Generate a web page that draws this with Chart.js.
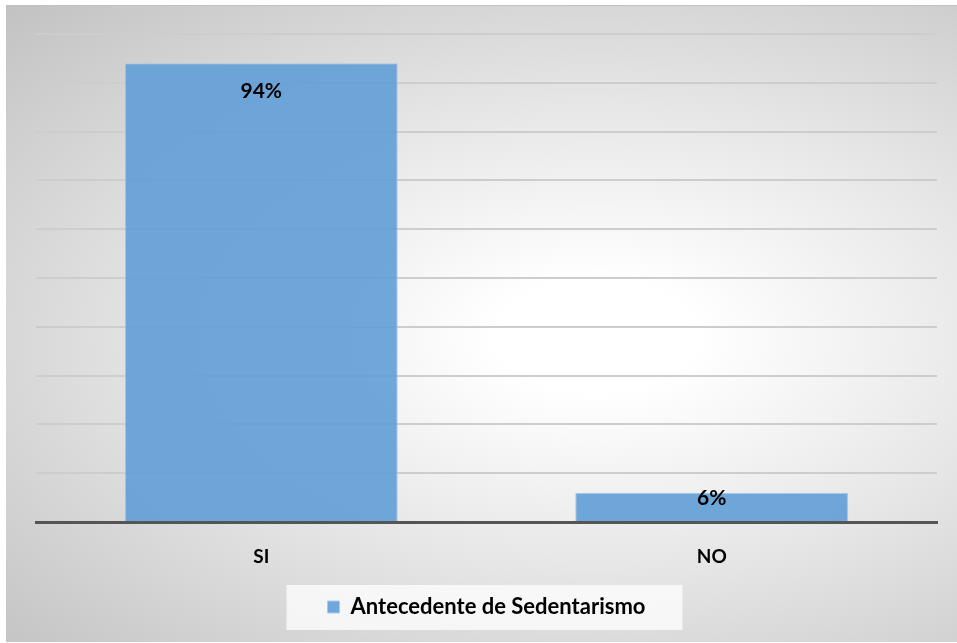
<!DOCTYPE html>
<html>
<head>
<meta charset="utf-8">
<script src="https://cdn.jsdelivr.net/npm/chart.js@4.4.0/dist/chart.umd.min.js"></script>
<style>
  html, body { margin: 0; padding: 0; background: #fff; }
  #wrap {
    position: absolute; left: 6px; top: 5px; width: 951px; height: 636px;
    border-top: 1px solid #c0c0c0;
    background: radial-gradient(ellipse farthest-corner at 62% 52%, #ffffff 0%, #ffffff 12%, #e6e6e6 50%, #c2c2c2 100%);
  }
</style>
</head>
<body>
<div id="wrap"><canvas id="myChart" width="951" height="636"></canvas></div>
<script>
// Antecedente de Sedentarismo
const categories = ['SI', 'NO'];
const seriesName = 'Antecedente de Sedentarismo';
const seriesValues = [0.94, 0.06];
const valueLabels = ['94%', '6%'];

const labelFont = 'bold 21px Lato';

// draws the % label inside the top of each bar
const barLabels = {
  id: 'barLabels',
  afterDatasetsDraw(chart) {
    const ctx = chart.ctx;
    const meta = chart.getDatasetMeta(0);
    const offsets = [28, 6];
    ctx.save();
    ctx.font = labelFont;
    ctx.fillStyle = '#000';
    ctx.textAlign = 'center';
    ctx.textBaseline = 'middle';
    meta.data.forEach((bar, i) => {
      ctx.fillText(valueLabels[i], bar.x, bar.y + offsets[i]);
    });
    ctx.restore();
  }
};

// fixed legend height so the layout matches
const legendSize = {
  id: 'legendSize',
  beforeInit(chart) {
    const fit = chart.legend.fit;
    chart.legend.fit = function () {
      fit.bind(chart.legend)();
      this.height = 56;
    };
  }
};

// light box behind the legend entry
const legendBg = {
  id: 'legendBg',
  beforeDraw(chart) {
    const lg = chart.legend;
    if (!lg || !lg.legendHitBoxes || !lg.legendHitBoxes.length) return;
    const hb = lg.legendHitBoxes[0];
    const ctx = chart.ctx;
    ctx.save();
    ctx.fillStyle = 'rgba(255,255,255,0.75)';
    ctx.fillRect(hb.left - 41, hb.top + hb.height / 2 - 22, hb.width + 78, 45);
    ctx.restore();
  }
};

const ctx = document.getElementById('myChart').getContext('2d');
const myChart = new Chart(ctx, {
  type: 'bar',
  data: {
    labels: categories,
    datasets: [{
      label: seriesName,
      data: seriesValues,
      backgroundColor: 'rgba(100,160,215,0.92)',
      borderColor: '#a9cbeb',
      borderWidth: 1,
      barPercentage: 0.606,
      categoryPercentage: 1.0
    }]
  },
  options: {
    responsive: false,
    animation: false,
    layout: { padding: { left: 30, right: 20, top: 28, bottom: 0 } },
    scales: {
      y: {
        min: 0, max: 1,
        ticks: { display: false, stepSize: 0.1 },
        grid: { color: '#cdcdcd', lineWidth: 2, drawTicks: false },
        border: { display: false }
      },
      x: {
        grid: { display: false },
        border: { color: '#555555', width: 3 },
        ticks: { color: '#000', font: { family: 'Lato', size: 19, weight: 'bold' }, padding: 15 },
        afterFit(scale) { scale.height = 64; }
      }
    },
    plugins: {
      tooltip: { enabled: false },
      legend: {
        position: 'bottom',
        labels: {
          color: '#000',
          boxWidth: 12, boxHeight: 12,
          padding: 10,
          font: { family: 'Lato', size: 22, weight: 'bold' }
        }
      }
    }
  },
  plugins: [legendSize, legendBg, barLabels]
});
</script>
</body>
</html>
